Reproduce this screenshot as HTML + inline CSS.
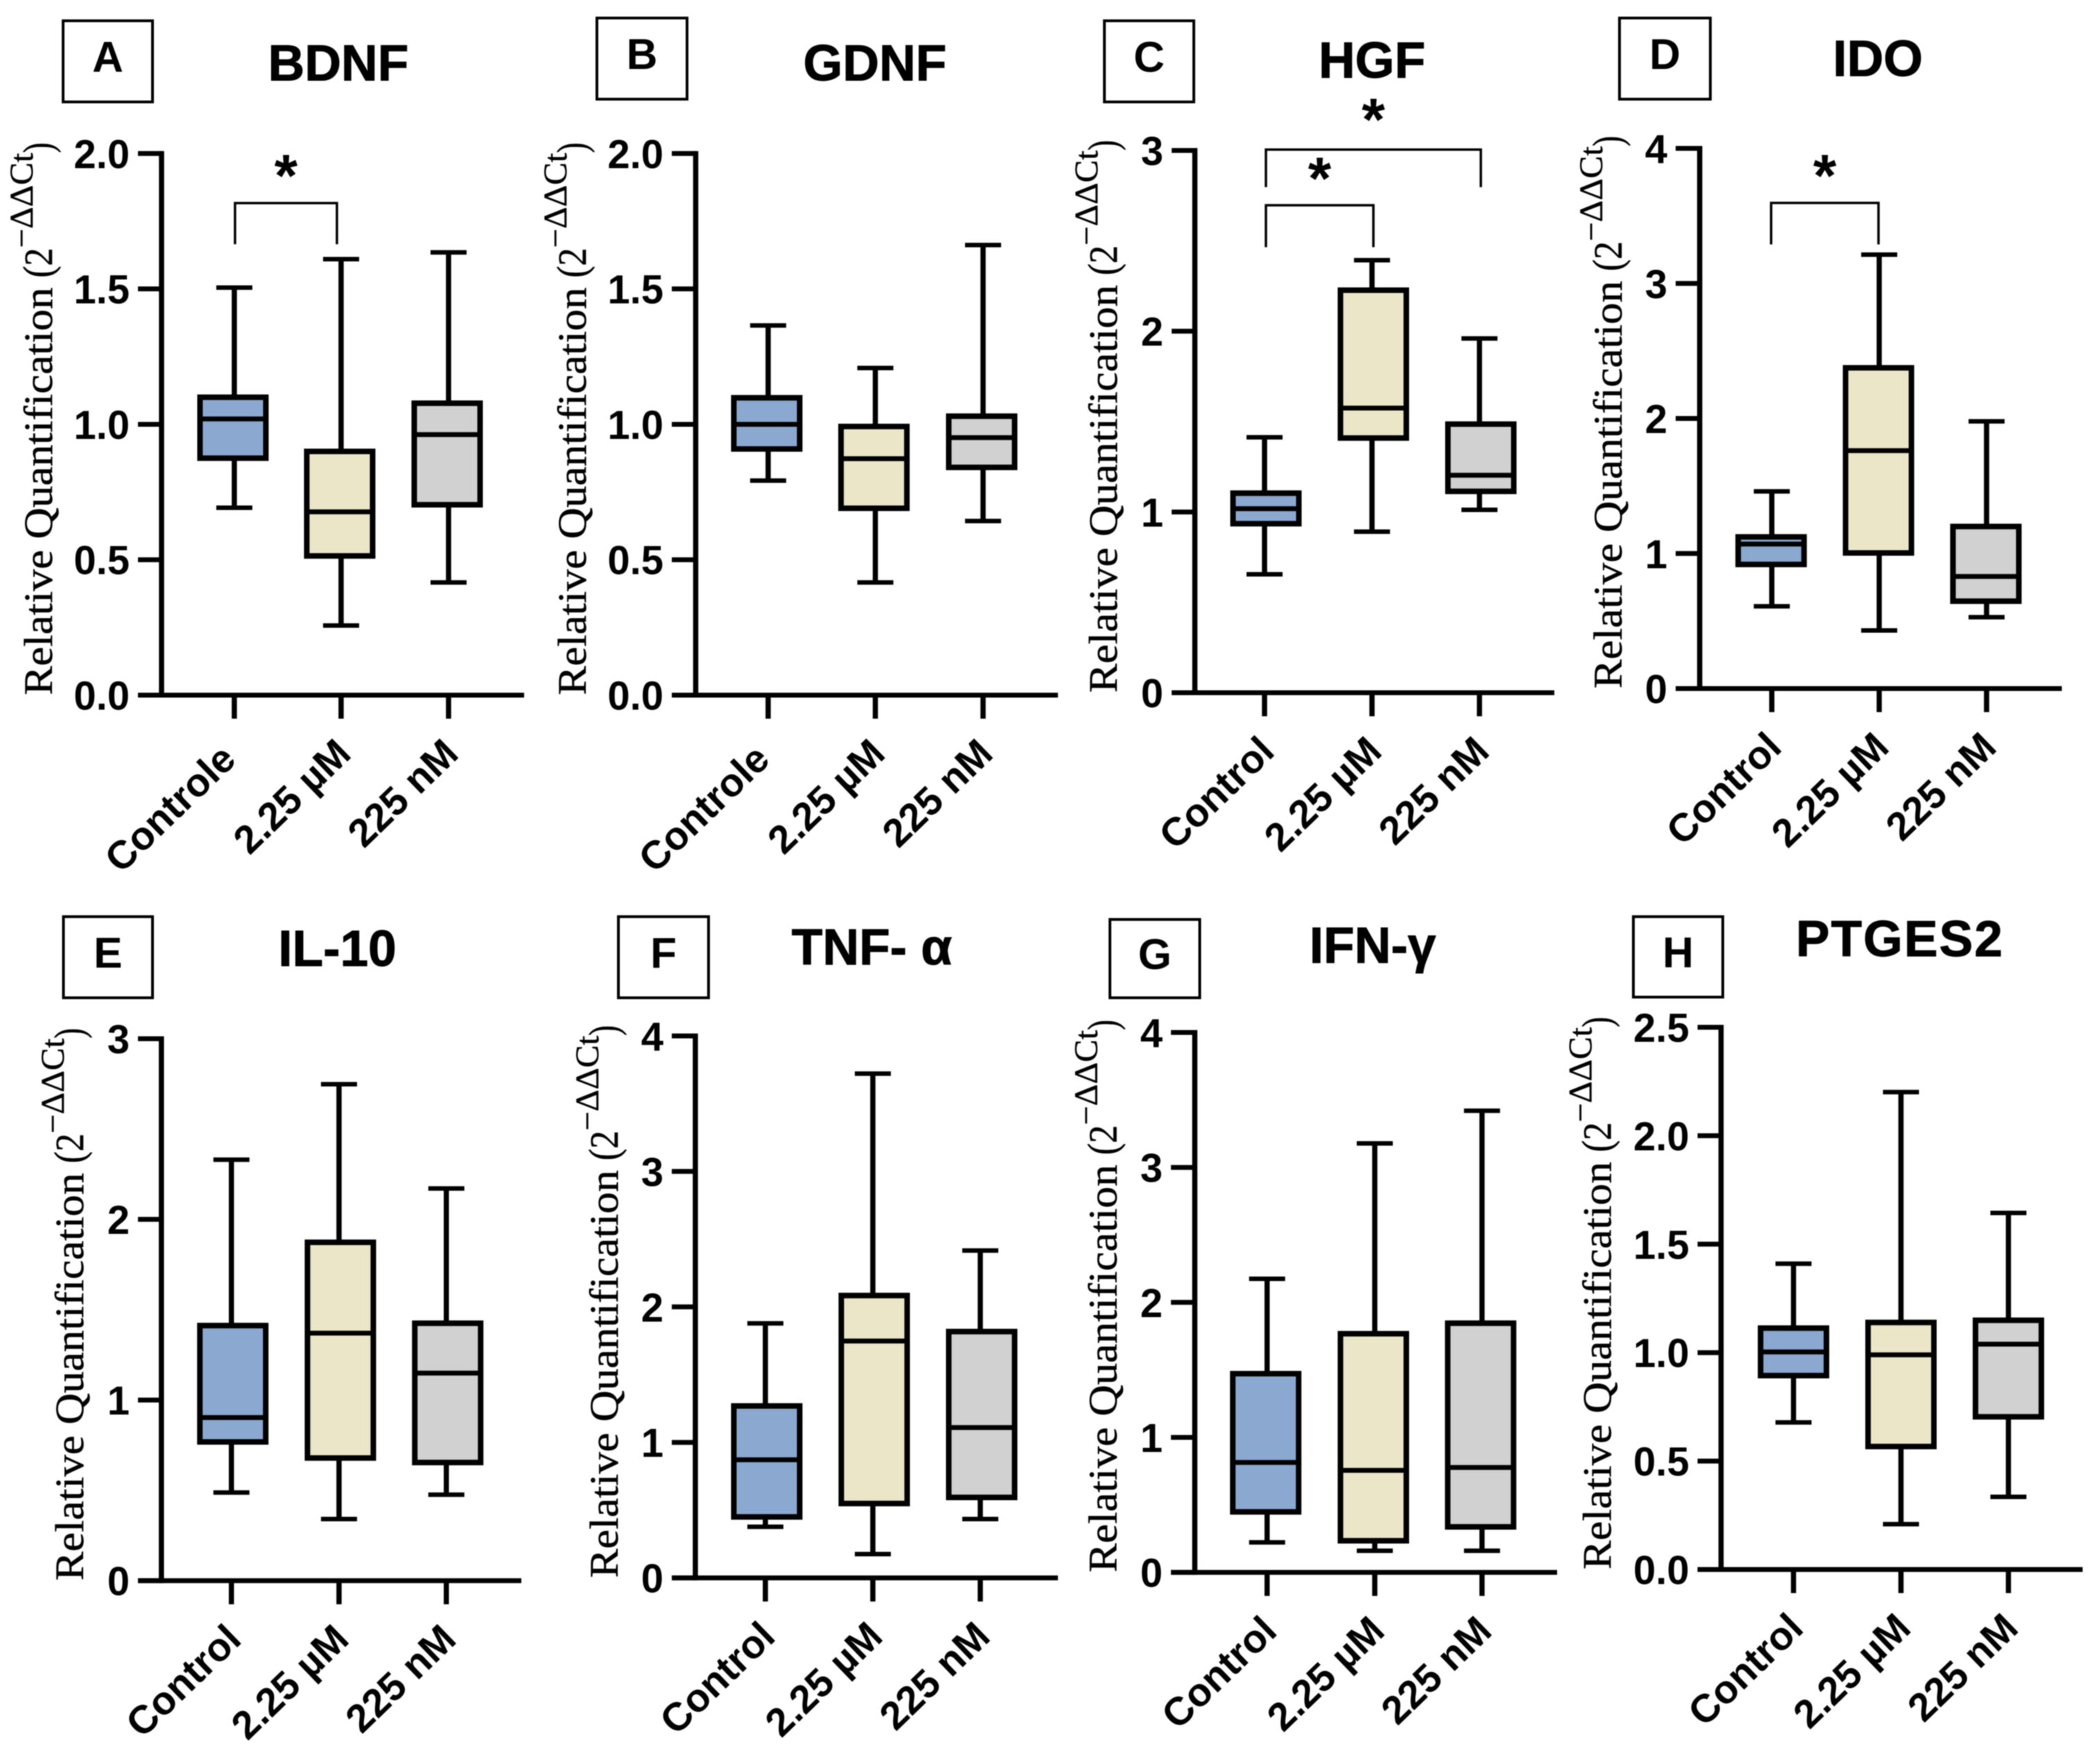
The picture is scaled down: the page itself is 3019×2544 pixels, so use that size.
<!DOCTYPE html>
<html lang="en">
<head>
<meta charset="utf-8">
<title>Relative quantification box plots</title>
<style>
html,body{margin:0;padding:0;background:#fff;}
svg{display:block;filter:blur(0.7px);}
text{font-family:"Liberation Sans",sans-serif;fill:#000;}
.ser{font-family:"Liberation Serif",serif;fill:#000;stroke:#000;stroke-width:0.5;}
</style>
</head>
<body>
<svg id="chart" xmlns="http://www.w3.org/2000/svg" width="3019" height="2544" viewBox="0 0 3019 2544"></svg>
<script>
// ---- categories ----
const categoriesControle = ['Controle', '2.25 µM', '225 nM'];
const categoriesControl = ['Control', '2.25 µM', '225 nM'];

// ---- tick labels ----
const ticksHalfTo2 = ['0.0', '0.5', '1.0', '1.5', '2.0'];
const ticksHalfTo25 = ['0.0', '0.5', '1.0', '1.5', '2.0', '2.5'];
const ticksOneTo3 = ['0', '1', '2', '3'];
const ticksOneTo4 = ['0', '1', '2', '3', '4'];

// ---- series values (Control, 2.25 uM, 225 nM) ----
const bdnfLow = [0.692, 0.257, 0.416];
const bdnfQ1 = [0.875, 0.514, 0.703];
const bdnfMedian = [1.02, 0.677, 0.962];
const bdnfQ3 = [1.10, 0.90, 1.078];
const bdnfHigh = [1.505, 1.61, 1.635];

const gdnfLow = [0.792, 0.416, 0.643];
const gdnfQ1 = [0.909, 0.69, 0.841];
const gdnfMedian = [1.0, 0.873, 0.951];
const gdnfQ3 = [1.098, 0.992, 1.03];
const gdnfHigh = [1.365, 1.208, 1.662];

const hgfLow = [0.655, 0.891, 1.012];
const hgfQ1 = [0.935, 1.409, 1.114];
const hgfMedian = [1.018, 1.575, 1.203];
const hgfQ3 = [1.104, 2.227, 1.486];
const hgfHigh = [1.413, 2.393, 1.96];

const idoLow = [0.609, 0.43, 0.528];
const idoQ1 = [0.919, 1.004, 0.647];
const idoMedian = [1.07, 1.762, 0.83];
const idoQ3 = [1.123, 2.375, 1.2];
const idoHigh = [1.46, 3.213, 1.979];

const il10Low = [0.488, 0.341, 0.476];
const il10Q1 = [0.768, 0.679, 0.654];
const il10Median = [0.903, 1.37, 1.149];
const il10Q3 = [1.412, 1.873, 1.425];
const il10High = [2.33, 2.748, 2.171];

const tnfLow = [0.377, 0.176, 0.434];
const tnfQ1 = [0.45, 0.549, 0.594];
const tnfMedian = [0.872, 1.748, 1.11];
const tnfQ3 = [1.269, 2.084, 1.818];
const tnfHigh = [1.879, 3.722, 2.416];

const ifnLow = [0.222, 0.16, 0.16];
const ifnQ1 = [0.448, 0.234, 0.337];
const ifnMedian = [0.814, 0.756, 0.777];
const ifnQ3 = [1.472, 1.768, 1.846];
const ifnHigh = [2.175, 3.178, 3.42];

const ptgesLow = [0.678, 0.209, 0.335];
const ptgesQ1 = [0.894, 0.567, 0.704];
const ptgesMedian = [1.003, 0.99, 1.039];
const ptgesQ3 = [1.113, 1.139, 1.149];
const ptgesHigh = [1.41, 2.201, 1.644];

// ---- significance brackets, in data units on the y axis ----
const bdnfBrackets = [{from: 0, to: 1, top: 1.817, leg: 1.665, star: 1.945, nudge: -7}];
const hgfBrackets = [
  {from: 0, to: 2, top: 3.005, leg: 2.797, star: 3.211, nudge: 0},
  {from: 0, to: 1, top: 2.697, leg: 2.465, star: 2.885, nudge: 0}
];
const idoBrackets = [{from: 0, to: 1, top: 3.596, leg: 3.289, star: 3.852, nudge: 0}];
const noBrackets = [];

const groupColors = ['#8BA9D0', '#ECE6C9', '#D1D1D1'];

const panels = [
  {key:'a', letter:'A', title:'BDNF', cats:categoriesControle, ticks:ticksHalfTo2, low:bdnfLow, q1:bdnfQ1, med:bdnfMedian, q3:bdnfQ3, high:bdnfHigh, brackets:bdnfBrackets,
   ax:233, y0:1002.5, yTop:221.4, left:199, right:756, cx:[338,492,647], shift:-2, bracketShift:1, frame:[91,30,129,117], tx:488, ty:91, lx:75},
  {key:'b', letter:'B', title:'GDNF', cats:categoriesControle, ticks:ticksHalfTo2, low:gdnfLow, q1:gdnfQ1, med:gdnfMedian, q3:gdnfQ3, high:gdnfHigh, brackets:noBrackets,
   ax:1003.5, y0:1002.5, yTop:221.4, left:969, right:1526, cx:[1108,1262.6,1418], shift:-2, bracketShift:0, frame:[861,26,130,117], tx:1262, ty:91, lx:845},
  {key:'c', letter:'C', title:'HGF', cats:categoriesControl, ticks:ticksOneTo3, low:hgfLow, q1:hgfQ1, med:hgfMedian, q3:hgfQ3, high:hgfHigh, brackets:hgfBrackets,
   ax:1723.5, y0:999, yTop:217, left:1690, right:2242, cx:[1824,1979,2134], shift:2, bracketShift:2, frame:[1593,30,129,117], tx:1979, ty:87, lx:1611},
  {key:'d', letter:'D', title:'IDO', cats:categoriesControl, ticks:ticksOneTo4, low:idoLow, q1:idoQ1, med:idoMedian, q3:idoQ3, high:idoHigh, brackets:idoBrackets,
   ax:2451.7, y0:993, yTop:214, left:2417, right:2974, cx:[2555.7,2710.6,2865.5], shift:-1, bracketShift:-1, frame:[2336,26,131,117], tx:2708.7, ty:84.6, lx:2339},
  {key:'e', letter:'E', title:'IL-10', cats:categoriesControl, ticks:ticksOneTo3, low:il10Low, q1:il10Q1, med:il10Median, q3:il10Q3, high:il10High, brackets:noBrackets,
   ax:232.8, y0:2279.6, yTop:1498, left:199, right:752, cx:[333.8,489,643.8], shift:2, bracketShift:0, frame:[91.5,1322,128.5,117], tx:486.6, ty:1368, lx:120},
  {key:'f', letter:'F', title:'TNF- α', cats:categoriesControl, ticks:ticksOneTo4, low:tnfLow, q1:tnfQ1, med:tnfMedian, q3:tnfQ3, high:tnfHigh, brackets:noBrackets,
   ax:1003, y0:2275.6, yTop:1494, left:969, right:1526, cx:[1104,1259,1414], shift:2, bracketShift:0, frame:[892,1322,130,117], tx:1257.6, ty:1366, lx:891},
  {key:'g', letter:'G', title:'IFN-γ', cats:categoriesControl, ticks:ticksOneTo4, low:ifnLow, q1:ifnQ1, med:ifnMedian, q3:ifnQ3, high:ifnHigh, brackets:noBrackets,
   ax:1723.4, y0:2267.6, yTop:1489, left:1689, right:2246, cx:[1827.7,1983,2137.7], shift:-2, bracketShift:0, frame:[1601,1326,129.5,113], tx:1980, ty:1363.6, lx:1610.6},
  {key:'h', letter:'H', title:'PTGES2', cats:categoriesControl, ticks:ticksHalfTo25, low:ptgesLow, q1:ptgesQ1, med:ptgesMedian, q3:ptgesQ3, high:ptgesHigh, brackets:noBrackets,
   ax:2482.5, y0:2263.5, yTop:1481.5, left:2448.6, right:3004, cx:[2587,2742,2897], shift:0, bracketShift:0, frame:[2356,1322,129,116], tx:2740.4, ty:1354, lx:2323.6, spacing:2}
];

const svg = document.getElementById('chart');
const NS = 'http://www.w3.org/2000/svg';

function make(parent, tag, props, content) {
  const node = document.createElementNS(NS, tag);
  for (const k in props) node.setAttribute(k, props[k]);
  if (content !== undefined) node.textContent = content;
  parent.appendChild(node);
  return node;
}

function line(parent, x1, y1, x2, y2, width) {
  return make(parent, 'line', {x1: x1, y1: y1, x2: x2, y2: y2, stroke: '#000', 'stroke-width': width});
}

function drawPanel(p) {
  const yMax = parseFloat(p.ticks[p.ticks.length - 1]);
  const yScale = function (v) { return p.y0 - (v / yMax) * (p.y0 - p.yTop); };

  const g = make(svg, 'g', {});
  
  

  // panel letter box
  const frame = make(g, 'rect', {x: p.frame[0], y: p.frame[1], width: p.frame[2], height: p.frame[3], fill: '#fff', stroke: '#000', 'stroke-width': 4});
  
  
  const letter = make(g, 'text', {x: p.frame[0] + p.frame[2] / 2, y: p.frame[1] + p.frame[3] / 2 + 15, 'text-anchor': 'middle', 'font-size': 62, 'font-weight': 'bold'}, p.letter);
  
  

  // title
  const title = make(g, 'text', {x: p.tx, y: p.ty + 25, 'text-anchor': 'middle', 'font-size': 73, 'font-weight': 'bold', stroke: '#000', 'stroke-width': 1, 'letter-spacing': p.spacing || 0}, p.title);
  
  

  // y axis title
  const yt = make(g, 'g', {transform: 'translate(' + p.lx + ',' + p.y0 + ') rotate(-90)'});
  
  
  make(yt, 'text', {class: 'ser', x: 0, y: 0, 'font-size': 58, textLength: 588, lengthAdjust: 'spacingAndGlyphs'}, 'Relative Quantification');
  make(yt, 'text', {class: 'ser', x: 602, y: 0, 'font-size': 60, textLength: 17, lengthAdjust: 'spacingAndGlyphs'}, '(');
  make(yt, 'text', {class: 'ser', x: 619, y: 0, 'font-size': 58, textLength: 26, lengthAdjust: 'spacingAndGlyphs'}, '2');
  make(yt, 'text', {class: 'ser', x: 645, y: -28, 'font-size': 48, textLength: 137, lengthAdjust: 'spacingAndGlyphs'}, '−ΔΔCt');
  make(yt, 'text', {class: 'ser', x: 782, y: 0, 'font-size': 60, textLength: 15, lengthAdjust: 'spacingAndGlyphs'}, ')');

  // axes
  const yAxis = line(g, p.ax, p.yTop - 3.5, p.ax, p.y0 + 3.5, 7.5);
  
  
  const xAxis = line(g, p.left, p.y0, p.right, p.y0, 7);
  
  

  p.ticks.forEach(function (label) {
    const v = parseFloat(label);
    const y = yScale(v);
    const tick = line(g, p.left, y, p.ax, y, 7);
    
    
    const tl = make(g, 'text', {x: p.left - 12, y: y + 21, 'text-anchor': 'end', 'font-size': 58, 'font-weight': 'bold'}, label);
    
    
  });

  p.cats.forEach(function (name, i) {
    const x = p.cx[i];
    const tick = line(g, x, p.y0, x, p.y0 + 34, 7.5);
    
    

    const endX = x + (name === 'Controle' ? 5 : 17);
    const endY = p.y0 + (name === 'Controle' ? 96 : 88);
    const cl = make(g, 'text', {x: endX, y: endY, transform: 'rotate(-44 ' + endX + ' ' + endY + ')', 'text-anchor': 'end', 'font-size': 57, 'font-weight': 'bold'}, name);
    
    

    // box plot
    const bg = make(g, 'g', {});
    
    
    const bx = x + p.shift;
    const stem = line(bg, x, yScale(p.high[i]), x, yScale(p.low[i]), 7.5);
    
    
    const capHigh = line(bg, x - 26, yScale(p.high[i]), x + 26, yScale(p.high[i]), 6.5);
    
    
    const capLow = line(bg, x - 26, yScale(p.low[i]), x + 26, yScale(p.low[i]), 6.5);
    
    
    const topY = yScale(p.q3[i]);
    const botY = yScale(p.q1[i]);
    const box = make(bg, 'rect', {x: bx - 47.5, y: topY, width: 95, height: botY - topY, fill: groupColors[i], stroke: '#000', 'stroke-width': 8});
    
    
    const median = line(bg, bx - 47.5, yScale(p.med[i]), bx + 47.5, yScale(p.med[i]), 7);
    
    
  });

  p.brackets.forEach(function (b) {
    const x1 = p.cx[b.from] + p.bracketShift;
    const x2 = p.cx[b.to] + p.bracketShift + b.nudge;
    const top = yScale(b.top);
    const leg = yScale(b.leg);
    const br = make(g, 'path', {d: 'M' + x1 + ' ' + leg + 'V' + top + 'H' + x2 + 'V' + leg, fill: 'none', stroke: '#000', 'stroke-width': 3.5});
    
    
    const st = make(g, 'text', {x: (x1 + x2) / 2, y: yScale(b.star) + 40, 'text-anchor': 'middle', 'font-size': 86, 'font-weight': 'bold'}, '*');
    
    
  });
}

panels.forEach(drawPanel);
</script>
</body>
</html>
